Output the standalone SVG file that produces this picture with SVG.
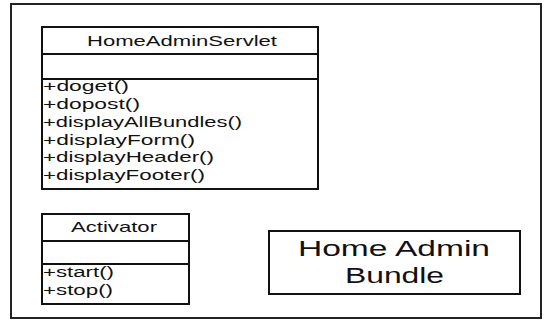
<svg xmlns="http://www.w3.org/2000/svg" width="545" height="320" viewBox="0 0 545 320">
<style>
.box{fill:#fff;stroke:#111;stroke-width:2}
.sep{stroke:#111;stroke-width:2}
.t{font-family:"Liberation Sans",Arial,sans-serif;fill:#111}
.title{font-size:15px;text-anchor:start}
.m{font-size:14px}
.big{font-size:22px}
</style>
<rect width="545" height="320" fill="#fff"/>
<rect id="frame" x="11" y="4" width="530" height="314" fill="none" stroke="#222" stroke-width="2"/>
<g id="HomeAdminServlet">
<rect class="box" x="42" y="27" width="276" height="162"/>
<line class="sep" x1="42" y1="54" x2="318" y2="54"/>
<line class="sep" x1="42" y1="79" x2="318" y2="79"/>
<text class="t title" x="87" y="46" textLength="190" lengthAdjust="spacingAndGlyphs">HomeAdminServlet</text>
<text class="t m" x="43" y="91" textLength="86" lengthAdjust="spacingAndGlyphs">+doget()</text>
<text class="t m" x="43" y="109" textLength="97" lengthAdjust="spacingAndGlyphs">+dopost()</text>
<text class="t m" x="43" y="127" textLength="199" lengthAdjust="spacingAndGlyphs">+displayAllBundles()</text>
<text class="t m" x="43" y="145" textLength="152" lengthAdjust="spacingAndGlyphs">+displayForm()</text>
<text class="t m" x="43" y="162" textLength="171" lengthAdjust="spacingAndGlyphs">+displayHeader()</text>
<text class="t m" x="43" y="180" textLength="162" lengthAdjust="spacingAndGlyphs">+displayFooter()</text>
</g>
<g id="Activator">
<rect class="box" x="42" y="214" width="147" height="90"/>
<line class="sep" x1="42" y1="241" x2="189" y2="241"/>
<line class="sep" x1="42" y1="264" x2="189" y2="264"/>
<text class="t title" x="71" y="232" textLength="86" lengthAdjust="spacingAndGlyphs">Activator</text>
<text class="t m" x="43" y="277" textLength="71" lengthAdjust="spacingAndGlyphs">+start()</text>
<text class="t m" x="43" y="295" textLength="70" lengthAdjust="spacingAndGlyphs">+stop()</text>
</g>
<g id="HomeAdminBundle">
<rect class="box" x="269" y="231" width="251" height="63"/>
<text class="t big" x="298" y="256" textLength="192" lengthAdjust="spacingAndGlyphs">Home Admin</text>
<text class="t big" x="345" y="283" textLength="99" lengthAdjust="spacingAndGlyphs">Bundle</text>
</g>
<g id="connectors"/>
</svg>
